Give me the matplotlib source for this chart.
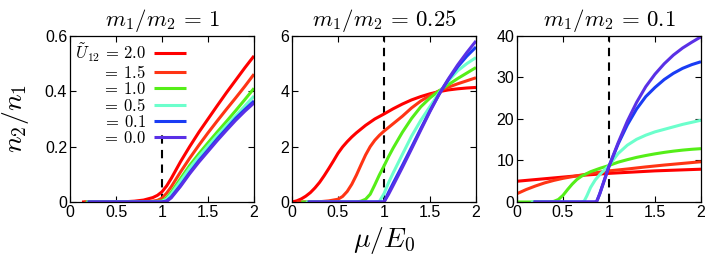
import matplotlib
matplotlib.use("Agg")
import matplotlib.pyplot as plt

plt.rcParams.update({
    "font.family": ["Liberation Sans", "DejaVu Sans"],
    "mathtext.fontset": "cm",
    "xtick.direction": "in",
    "ytick.direction": "in",
    "xtick.top": True,
    "ytick.right": True,
    "xtick.labelsize": 11.5,
    "ytick.labelsize": 11.5,
    "axes.linewidth": 0.9,
})

# interaction strengths (legend order) and line colours
U_LABELS = [r"$\tilde{U}_{12}\,=\,2.0$", r"$=\,1.5$", r"$=\,1.0$",
            r"$=\,0.5$", r"$=\,0.1$", r"$=\,0.0$"]
COLORS = ["#ff0000", "#ff3414", "#55ee18", "#6cffcc", "#1a3cf4", "#5a30e6"]

TITLES = [r"$m_1/m_2\,=\,1$", r"$m_1/m_2\,=\,0.25$", r"$m_1/m_2\,=\,0.1$"]
YLIMS = [0.6, 6, 40]
YTICKS = [[0, 0.2, 0.4, 0.6], [0, 2, 4, 6], [0, 10, 20, 30, 40]]
YTICKLABELS = [["0", "0.2", "0.4", "0.6"], ["0", "2", "4", "6"],
               ["0", "10", "20", "30", "40"]]
XTICKS = [0, 0.5, 1, 1.5, 2]
XTICKLABELS = ["0", "0.5", "1", "1.5", "2"]
MU_C = 1.0  # dashed reference line
DASH_TOP = [0.245, 6, 40]  # in panel 1 the legend hides the upper part

# ---- panel 1: m1/m2 = 1 ----
p1_x = [
    [0.13, 0.5, 0.6, 0.7, 0.8, 0.9, 0.95, 1.0, 1.05, 1.1, 1.2, 1.3, 1.4, 1.5, 1.6,
     1.7, 1.8, 1.9, 2.0],
    [0.15, 0.7, 0.8, 0.9, 0.95, 1.0, 1.05, 1.1, 1.2, 1.3, 1.4, 1.5, 1.6, 1.7, 1.8,
     1.9, 2.0],
    [0.17, 0.8, 0.9, 1.0, 1.05, 1.1, 1.2, 1.3, 1.4, 1.5, 1.6, 1.7, 1.8, 1.9, 2.0],
    [0.18, 0.9, 1.0, 1.05, 1.1, 1.2, 1.3, 1.4, 1.5, 1.6, 1.7, 1.8, 1.9, 2.0],
    [0.19, 1.0, 1.05, 1.1, 1.2, 1.3, 1.4, 1.5, 1.6, 1.7, 1.8, 1.9, 2.0],
    [0.20, 1.0, 1.05, 1.1, 1.2, 1.3, 1.4, 1.5, 1.6, 1.7, 1.8, 1.9, 2.0],
]
p1_y = [
    [0, 0.0005, 0.001, 0.003, 0.007, 0.016, 0.024, 0.037, 0.058, 0.085, 0.145, 0.2,
     0.252, 0.3, 0.348, 0.395, 0.44, 0.485, 0.528],
    [0, 0.0005, 0.001, 0.003, 0.006, 0.014, 0.032, 0.055, 0.108, 0.158, 0.205, 0.25,
     0.293, 0.335, 0.376, 0.418, 0.462],
    [0, 0.0003, 0.001, 0.004, 0.015, 0.035, 0.084, 0.132, 0.174, 0.214, 0.253,
     0.291, 0.33, 0.37, 0.411],
    [0, 0.0003, 0.002, 0.01, 0.028, 0.075, 0.122, 0.163, 0.202, 0.24, 0.276,
     0.311, 0.347, 0.383],
    [0, 0, 0.004, 0.018, 0.06, 0.106, 0.149, 0.188, 0.228, 0.265, 0.302, 0.334, 0.365],
    [0, 0, 0.002, 0.015, 0.056, 0.102, 0.144, 0.183, 0.222, 0.259, 0.295, 0.328, 0.358],
]

# ---- panel 2: m1/m2 = 0.25 ----
p2_x = [
    [0.0, 0.05, 0.1, 0.15, 0.2, 0.25, 0.3, 0.35, 0.4, 0.45, 0.5, 0.55, 0.6, 0.65,
     0.7, 0.8, 0.9, 1.0, 1.1, 1.2, 1.3, 1.4, 1.5, 1.6, 1.7, 1.8, 1.9, 2.0],
    [0.05, 0.3, 0.4, 0.5, 0.55, 0.6, 0.65, 0.7, 0.75, 0.8, 0.85, 0.9, 0.95, 1.0,
     1.1, 1.2, 1.3, 1.4, 1.5, 1.6, 1.7, 1.8, 1.9, 2.0],
    [0.1, 0.7, 0.75, 0.8, 0.85, 0.9, 0.95, 1.0, 1.05, 1.1, 1.2, 1.3, 1.4, 1.5, 1.6,
     1.7, 1.8, 1.9, 2.0],
    [0.15, 0.9, 0.95, 1.0, 1.05, 1.1, 1.2, 1.3, 1.4, 1.5, 1.6, 1.7, 1.8, 1.9, 2.0],
    [0.17, 1.0, 1.05, 1.1, 1.2, 1.3, 1.4, 1.5, 1.6, 1.7, 1.8, 1.9, 2.0],
    [0.18, 1.0, 1.05, 1.1, 1.2, 1.3, 1.4, 1.5, 1.6, 1.7, 1.8, 1.9, 2.0],
]
p2_y = [
    [0.0, 0.04, 0.11, 0.21, 0.34, 0.51, 0.71, 0.95, 1.21, 1.48, 1.76, 1.99, 2.18,
     2.35, 2.5, 2.77, 3.0, 3.18, 3.37, 3.54, 3.69, 3.81, 3.91, 3.99, 4.05, 4.09,
     4.12, 4.14],
    [0, 0.01, 0.04, 0.1, 0.2, 0.38, 0.64, 0.97, 1.34, 1.7, 2.0, 2.23, 2.41, 2.56,
     2.83, 3.1, 3.4, 3.65, 3.85, 4.02, 4.15, 4.27, 4.38, 4.49],
    [0, 0, 0.03, 0.1, 0.28, 0.62, 0.98, 1.3, 1.64, 1.95, 2.52, 3.02, 3.44, 3.76,
     4.02, 4.24, 4.46, 4.66, 4.86],
    [0, 0, 0.02, 0.3, 0.7, 1.05, 1.72, 2.38, 2.95, 3.45, 3.95, 4.38, 4.74, 5.0, 5.22],
    [0, 0, 0.35, 0.68, 1.32, 1.98, 2.65, 3.3, 3.9, 4.42, 4.88, 5.27, 5.6],
    [0, 0, 0.28, 0.6, 1.25, 1.92, 2.6, 3.27, 3.9, 4.45, 4.95, 5.4, 5.82],
]

# ---- panel 3: m1/m2 = 0.1 ----
p3_x = [
    [0.0, 0.25, 0.5, 0.75, 1.0, 1.25, 1.5, 1.75, 2.0],
    [0.0, 0.1, 0.2, 0.3, 0.4, 0.5, 0.6, 0.7, 0.8, 0.9, 1.0, 1.2, 1.4, 1.6, 1.8, 2.0],
    [0.0, 0.35, 0.4, 0.45, 0.5, 0.55, 0.6, 0.65, 0.7, 0.8, 0.9, 1.0, 1.1, 1.2, 1.3,
     1.4, 1.5, 1.6, 1.7, 1.8, 1.9, 2.0],
    [0.15, 0.7, 0.73, 0.76, 0.8, 0.85, 0.9, 0.95, 1.0, 1.1, 1.2, 1.3, 1.4, 1.5, 1.6,
     1.7, 1.8, 1.9, 2.0],
    [0.18, 0.85, 0.87, 0.9, 0.95, 1.0, 1.1, 1.2, 1.3, 1.4, 1.5, 1.6, 1.7, 1.8, 1.9, 2.0],
    [0.18, 0.85, 0.87, 0.9, 0.95, 1.0, 1.1, 1.2, 1.3, 1.4, 1.5, 1.6, 1.7, 1.8, 1.9, 2.0],
]
p3_y = [
    [5.0, 5.5, 6.0, 6.5, 6.9, 7.2, 7.5, 7.7, 7.9],
    [2.0, 3.0, 3.85, 4.6, 5.2, 5.7, 6.1, 6.5, 6.85, 7.2, 7.5, 7.95, 8.45, 8.9, 9.3, 9.7],
    [0, 0, 0.15, 0.6, 1.6, 3.0, 4.3, 5.4, 6.2, 7.3, 8.1, 8.8, 9.6, 10.2, 10.75, 11.2,
     11.6, 11.95, 12.25, 12.5, 12.7, 12.85],
    [0, 0, 0.2, 1.5, 3.5, 5.3, 6.6, 7.7, 8.8, 11.7, 13.7, 15.1, 16.1, 16.9, 17.5,
     18.1, 18.7, 19.2, 19.7],
    [0, 0, 0.3, 2.0, 5.3, 8.6, 14.0, 18.6, 22.4, 25.4, 27.6, 29.5, 31.0, 32.2, 33.1, 33.8],
    [0, 0, 0.3, 2.0, 5.3, 8.6, 14.3, 19.5, 24.0, 27.8, 30.8, 33.3, 35.4, 37.1, 38.5, 39.8],
]

PANEL_X = [p1_x, p2_x, p3_x]
PANEL_Y = [p1_y, p2_y, p3_y]


def main():
    fig = plt.figure(figsize=(7.08, 2.59), dpi=100)
    lefts = [0.0989, 0.4124, 0.7302]
    axes = [fig.add_axes([l, 0.2201, 0.2599, 0.641]) for l in lefts]

    for i, ax in enumerate(axes):
        ax.vlines(MU_C, 0, DASH_TOP[i], color="black", lw=1.5,
                  linestyles=[(0, (4, 3))], zorder=1)
        for xs, ys, c, lab in zip(PANEL_X[i], PANEL_Y[i], COLORS, U_LABELS):
            ax.plot(xs, ys, color=c, lw=2.2, label=lab, zorder=2,
                    solid_capstyle="butt")
        ax.set_xlim(0, 2)
        ax.set_ylim(0, YLIMS[i])
        ax.set_xticks(XTICKS)
        ax.set_xticklabels(XTICKLABELS)
        ax.set_yticks(YTICKS[i])
        ax.set_yticklabels(YTICKLABELS[i])
        ax.tick_params(length=4, width=0.8, pad=2)
        ax.set_title(TITLES[i], fontsize=16.5, pad=7)

    axes[0].legend(loc="upper left", markerfirst=False, fontsize=12,
                   handlelength=1.9, handletextpad=0.5, labelspacing=0.0,
                   borderpad=0.2, borderaxespad=0.1, frameon=False)

    axes[0].set_ylabel(r"$n_2/n_1$", fontsize=20, labelpad=10)
    axes[1].set_xlabel(r"$\mu/E_0$", fontsize=20, labelpad=4)

    fig.savefig("out.png", dpi=100)


if __name__ == "__main__":
    main()
